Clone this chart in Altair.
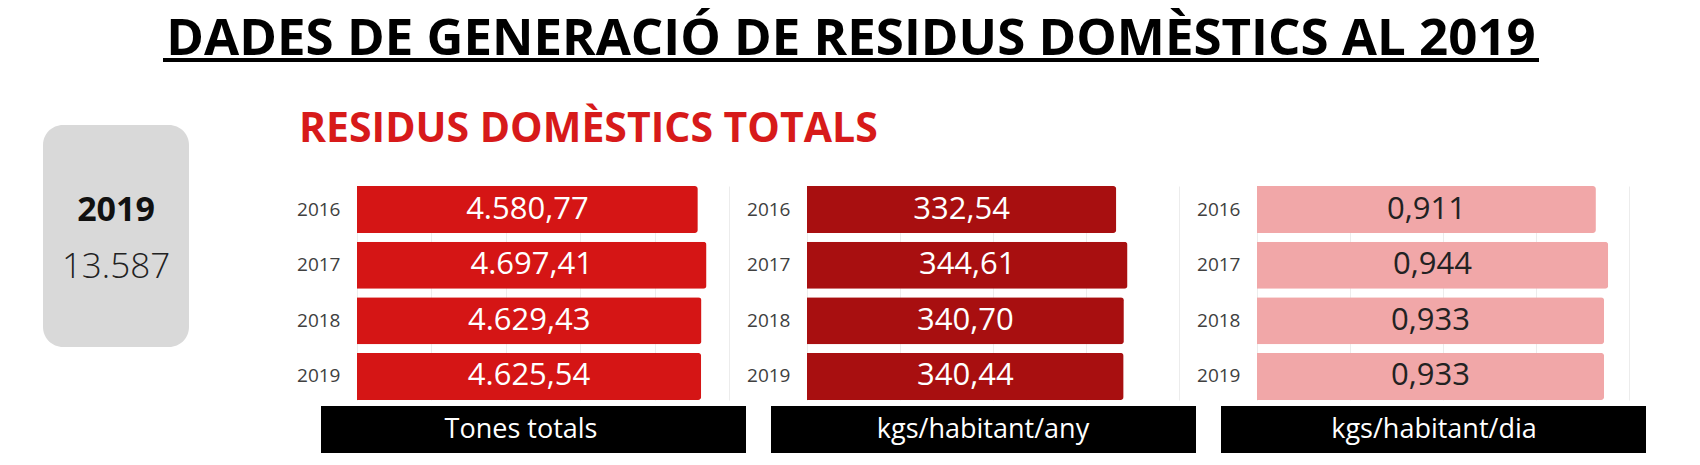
import altair as alt
import pandas as pd

# ---------------- data ----------------
years = ["2016", "2017", "2018", "2019"]
tones_totals = [4580.77, 4697.41, 4629.43, 4625.54]
kgs_hab_any = [332.54, 344.61, 340.70, 340.44]
kgs_hab_dia = [0.911, 0.944, 0.933, 0.933]

panel_titles = ["Tones totals", "kgs/habitant/any", "kgs/habitant/dia"]
panel_domains = [[0, 5000], [0, 400], [0, 1]]
panel_ticks = [[0, 1000, 2000, 3000, 4000, 5000], [0, 100, 200, 300, 400], [0, 0.25, 0.5, 0.75, 1]]
panel_formats = [",.2f", ",.2f", ".3f"]

main_title = "DADES DE GENERACIÓ DE RESIDUS DOMÈSTICS AL 2019"
subtitle = "RESIDUS DOMÈSTICS TOTALS"
kpi_year = "2019"
kpi_value = "13.587"

# ---------------- style ----------------
FONT = "Open Sans"
W, H = 372, 214
bar_colors = ["#d51515", "#a80f10", "#f1a7a8"]
text_colors = ["#ffffff", "#ffffff", "#222222"]
box_text_x = [164, 176, 177]


def panel(i, values, extra=None):
    df = pd.DataFrame({"any": years, "valor": values})
    df["mig"] = df["valor"] / 2
    base = alt.Chart(df)
    xscale = alt.Scale(domain=panel_domains[i], nice=False, zero=True)
    xaxis = alt.Axis(values=panel_ticks[i], title=None, grid=True, gridColor="#ececec",
                     domain=False, ticks=False, labels=False)
    yscale = alt.Scale(paddingInner=0.153, paddingOuter=0)
    yaxis = alt.Axis(title=None, domain=False, ticks=False, labelPadding=17, labelFontSize=19,
                     labelColor="#404040", labelFont=FONT, grid=False)
    bars = base.mark_bar(color=bar_colors[i], cornerRadiusEnd=3).encode(
        x=alt.X("valor:Q", scale=xscale, axis=xaxis),
        y=alt.Y("any:N", sort=years, scale=yscale, axis=yaxis),
    )
    labels = base.mark_text(font=FONT, fontSize=31, color=text_colors[i],
                            baseline="middle", align="center").encode(
        x=alt.X("mig:Q", scale=xscale, axis=xaxis),
        y=alt.Y("any:N", sort=years, scale=yscale, axis=yaxis),
        text=alt.Text("valor:Q", format=panel_formats[i]),
    )
    one = alt.Chart(alt.Data(values=[{"t": panel_titles[i]}]))
    box = one.mark_rect(color="#000000").encode(
        x=alt.value(-36), x2=alt.value(389), y=alt.value(220), y2=alt.value(267))
    box_text = one.mark_text(font=FONT, fontSize=27, color="#ffffff",
                             baseline="alphabetic", align="center").encode(
        x=alt.value(box_text_x[i]), y=alt.value(252), text="t:N")
    layers = list(extra or []) + [bars, labels, box, box_text]
    return alt.layer(*layers).properties(width=W, height=H)


deco = alt.Chart(alt.Data(values=[{"title": main_title, "sub": subtitle,
                                    "year": kpi_year, "val": kpi_value}]))
anchor = deco.mark_rect(color="#ffffff").encode(
    x=alt.value(-349), x2=alt.value(-348), y=alt.value(-178), y2=alt.value(-177))
title = deco.mark_text(font=FONT, fontSize=51, fontWeight="bold", color="#000000",
                       align="center", baseline="alphabetic").encode(
    x=alt.value(494), y=alt.value(-131), text="title:N")
underline = deco.mark_rule(color="#000000", strokeWidth=4).encode(
    x=alt.value(-194), x2=alt.value(1182), y=alt.value(-126))
sub = deco.mark_text(font=FONT, fontSize=41, fontWeight="bold", color="#d71a1a",
                     align="left", baseline="alphabetic").encode(
    x=alt.value(-58), y=alt.value(-44), text="sub:N")
gray = deco.mark_rect(color="#d9d9d9", cornerRadius=20).encode(
    x=alt.value(-314), x2=alt.value(-168), y=alt.value(-61), y2=alt.value(161))
kyear = deco.mark_text(font=FONT, fontSize=34, fontWeight="bold", color="#111111",
                       align="center", baseline="alphabetic").encode(
    x=alt.value(-241), y=alt.value(35), text="year:N")
kval = deco.mark_text(font=FONT, fontSize=35, fontWeight=300, color="#222222",
                      align="center", baseline="alphabetic").encode(
    x=alt.value(-241), y=alt.value(92), text="val:N")

p1 = panel(0, tones_totals, [anchor, gray, title, underline, sub, kyear, kval])
p2 = panel(1, kgs_hab_any)
p3 = panel(2, kgs_hab_dia)

chart = alt.hconcat(p1, p2, p3, spacing=78, bounds="flush").properties(
    padding=0, background="#ffffff"
).configure(
    locale=alt.Locale(number=alt.NumberLocale(decimal=",", thousands=".", grouping=[3],
                                              currency=["", "\u00a0€"])),
    view=alt.ViewConfig(stroke=None),
)

chart.save("out.html", embed_options={"renderer": "svg", "actions": False})
